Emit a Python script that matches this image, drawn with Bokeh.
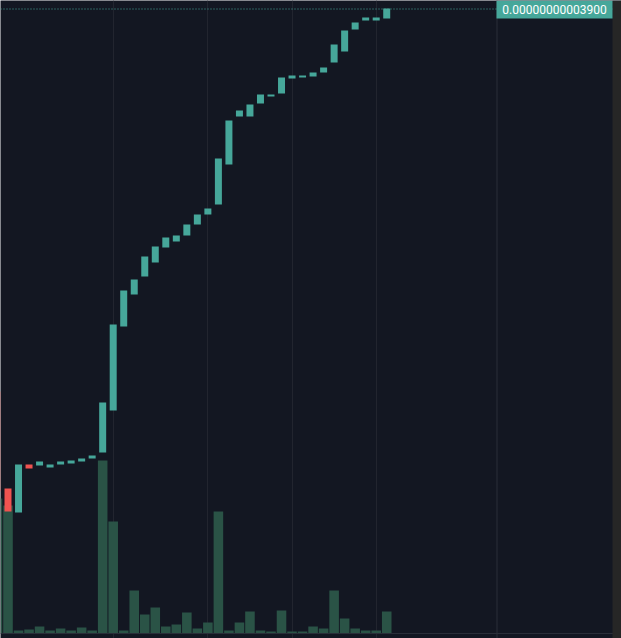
from bokeh.plotting import figure
from bokeh.models import Range1d, ColumnDataSource, Span, BoxAnnotation, Label, FixedTicker
from bokeh.embed import file_html
from bokeh.resources import INLINE

# ---- data (prices in units of 1e-12) ----
bar_index = list(range(-1, 37))
opens = [15.06, 9.00, 7.50, 10.50, 10.44, 10.31, 10.50, 10.56, 10.69, 10.88,
         11.25, 13.88, 19.13, 21.13, 22.25, 23.13, 24.06, 24.44, 24.81, 25.50,
         26.13, 26.75, 29.25, 32.25, 32.25, 33.06, 33.50, 33.69, 34.63, 34.69,
         34.75, 35.00, 35.63, 36.31, 37.69, 38.25, 38.25, 38.38]
closes = [8.81, 7.56, 10.50, 10.25, 10.69, 10.50, 10.69, 10.75, 10.88, 11.06,
          14.38, 19.25, 21.38, 22.06, 23.50, 24.13, 24.69, 24.81, 25.50, 26.13,
          26.50, 29.63, 32.00, 32.63, 33.00, 33.63, 33.63, 34.69, 34.81, 34.81,
          35.00, 35.31, 36.75, 37.63, 38.13, 38.44, 38.44, 39.00]
volumes = [13.5, 12.8, 0.3, 0.4, 0.7, 0.3, 0.5, 0.3, 0.6, 0.3,
           17.3, 11.2, 0.3, 4.3, 1.9, 2.6, 0.7, 0.9, 2.1, 0.5,
           1.1, 12.2, 0.3, 1.1, 2.2, 0.3, 0.2, 2.3, 0.2, 0.2,
           0.7, 0.5, 4.3, 1.5, 0.5, 0.3, 0.3, 2.2]
time_ticks = [10, 19, 27, 35]  # bar index of time-axis grid lines

# ---- styles / layout ----
BG = "#131722"
UP = "#46a79a"
DOWN = "#ef5350"
VOL = "#2a5346"
GRID = "#22252f"
BORDER = "#2a2e39"
STRIP = "#262626"

W, H = 621, 638
X0_PX = 7.5         # canvas x of bar index 0 (centre)
BAR_PX = 10.52      # px per bar
PRICE_PX = 16.0     # px per price unit
VOL_PX = 10.0       # px per volume unit
TOP_PRICE = 39.0 + 8 / PRICE_PX  # price at top of canvas
VOL_BASE_Y = 633    # canvas y of volume baseline


def px_x(X):
    return (X - X0_PX) / BAR_PX


def px_price(Y):
    return TOP_PRICE - Y / PRICE_PX


src = ColumnDataSource(dict(
    idx=bar_index,
    top=[max(o, c) for o, c in zip(opens, closes)],
    bottom=[min(o, c) for o, c in zip(opens, closes)],
    color=[UP if c >= o else DOWN for o, c in zip(opens, closes)],
    volume=volumes,
))

p = figure(width=W, height=H, output_backend="svg", toolbar_location=None,
           x_range=Range1d(px_x(0), px_x(W)),
           y_range=Range1d(TOP_PRICE - H / PRICE_PX, TOP_PRICE),
           x_axis_location=None, y_axis_location=None,
           min_border=0, background_fill_color=BG, border_fill_color=BG,
           outline_line_color=None)

vol_start = -(H - VOL_BASE_Y) / VOL_PX
p.extra_y_ranges = {"vol": Range1d(vol_start, vol_start + H / VOL_PX)}

p.ygrid.visible = False
p.xgrid.ticker = FixedTicker(ticks=time_ticks)
p.xgrid.grid_line_color = GRID
p.xgrid.grid_line_width = 1

# volume
p.vbar(x="idx", width=0.91, top="volume", bottom=0, y_range_name="vol",
       fill_color=VOL, line_color=None, source=src)
# candles
p.vbar(x="idx", width=0.665, top="top", bottom="bottom",
       fill_color="color", line_color=None, source=src)

# price scale border and time axis border
p.add_layout(Span(location=px_x(496.5), dimension="height",
                  line_color=BORDER, line_width=1))
p.add_layout(Span(location=0, y_range_name="vol", dimension="width",
                  line_color=BORDER, line_width=1))
# last price line
p.add_layout(Span(location=closes[-1] - 0.5 / PRICE_PX, dimension="width",
                  line_color=UP, line_width=1, line_dash="1 2"))
# right strip
p.add_layout(BoxAnnotation(left=px_x(612), fill_color=STRIP, fill_alpha=1,
                           line_color=None, level="overlay"))
# price label
p.add_layout(BoxAnnotation(left=px_x(496), right=px_x(612),
                           top=px_price(0), bottom=px_price(18),
                           fill_color=UP, fill_alpha=1, line_color=None,
                           level="overlay"))
p.add_layout(Label(x=px_x(554), y=px_price(9),
                   text=f"{closes[-1] * 1e-12:.14f}",
                   text_font="Roboto", text_font_size="12px",
                   text_color="#ffffff", text_align="center",
                   text_baseline="middle", level="overlay"))

open("out.html", "w").write(file_html(p, INLINE))
